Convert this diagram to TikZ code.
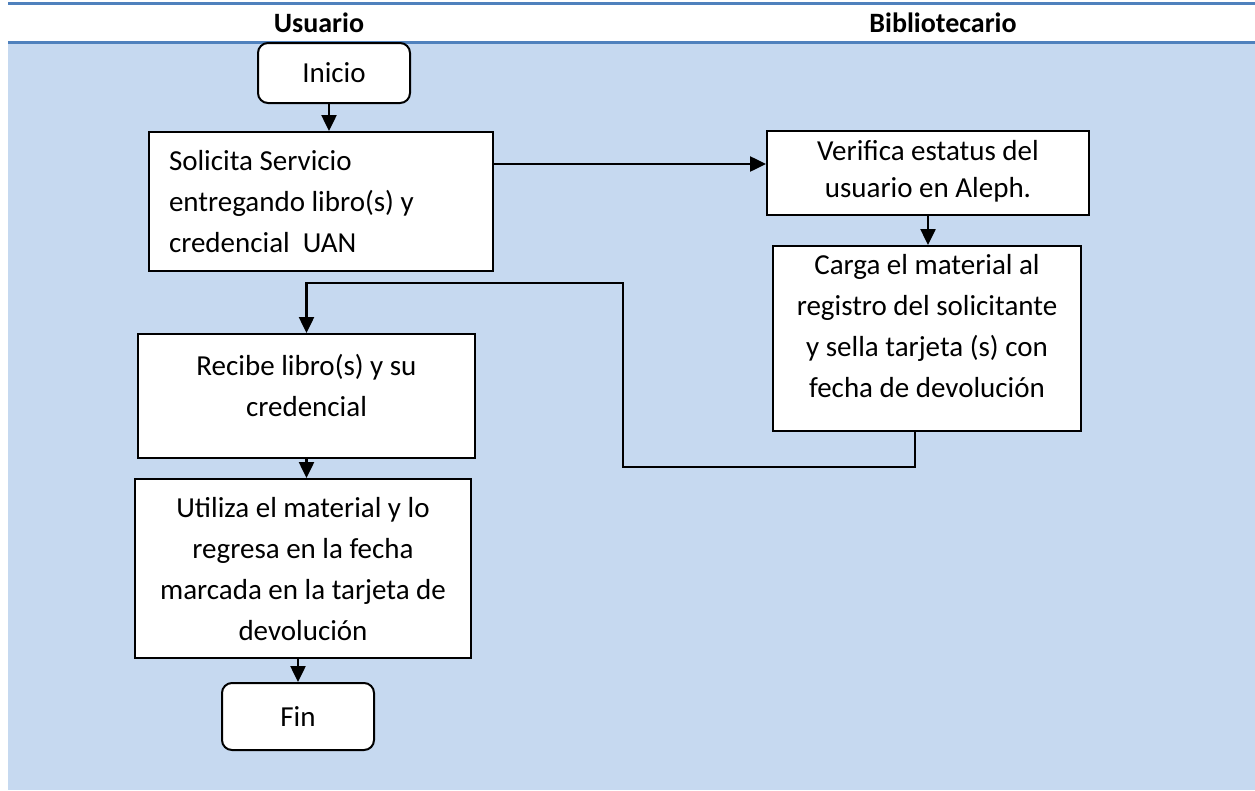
\documentclass[tikz,border=0pt]{standalone}
\usepackage{fontspec}
\setmainfont{Carlito}
\usetikzlibrary{arrows.meta}
\definecolor{lanefill}{HTML}{C6D9F0}
\definecolor{laneline}{HTML}{4F81BD}
% #1 width, #2 height, #3 top gap, #4 alignment, #5 text
\newcommand{\bxtext}[5]{\begin{minipage}[t][#2][t]{#1}#4\vspace*{#3}\strut #5\end{minipage}}
\begin{document}
\begin{tikzpicture}[x=1pt,y=-1pt,
  box/.style={draw=black,line width=2pt,fill=white,inner sep=0pt,
    font=\fontsize{29}{41}\selectfont,anchor=north west},
  term/.style={box,rounded corners=10pt,align=center},
  conn/.style={line width=2.5pt,line join=miter,-{Triangle[width=15pt,length=16pt]}},
  hdr/.style={font=\fontsize{28}{34}\selectfont\bfseries}]
\useasboundingbox (0,0) rectangle (1255,790);
\fill[lanefill] (8,43) rectangle (1255,790);
\draw[laneline,line width=3pt] (8,3.5) -- (1255,3.5);
\draw[laneline,line width=3pt] (8,42.5) -- (1255,42.5);
\node[hdr] (hu) at (319,23) {Usuario};
\node[hdr] (hb) at (943,23) {Bibliotecario};
% nodes
\node[term,minimum width=152pt,minimum height=60pt] (ini) at (257,42) {Inicio};
\node[box] (sol) at (148,131)
  {\bxtext{344pt}{139pt}{10pt}{\raggedright\leftskip=20pt}
   {Solicita Servicio\\entregando libro(s) y\\credencial\ \ UAN}};
\node[box] (ver) at (766,130)
  {\bxtext{322pt}{84pt}{4pt}{\centering\fontsize{29}{37}\selectfont}
   {Verifica estatus del\\usuario en Aleph.}};
\node[box] (car) at (772,245)
  {\bxtext{308pt}{185pt}{0pt}{\centering}
   {Carga el material al\\registro del solicitante\\y sella tarjeta (s) con\\fecha de devoluci\'on}};
\node[box] (rec) at (137,333)
  {\bxtext{337pt}{124pt}{13pt}{\centering}
   {Recibe libro(s) y su\\credencial}};
\node[box] (uti) at (134,478)
  {\bxtext{336pt}{179pt}{10pt}{\centering}
   {Utiliza el material y lo\\regresa en la fecha\\marcada en la tarjeta de\\devoluci\'on}};
\node[term,minimum width=152pt,minimum height=67pt] (fin) at (221,682) {Fin};
% connector bends
\coordinate (k1) at (623,467);
\coordinate (k2) at (623,283);
% connectors
\draw[conn] ([xshift=-5pt]ini.south) -- ([xshift=-5pt]ini.south |- sol.north);
\draw[conn] ([yshift=9pt]ver.west -| sol.east) -- ([yshift=9pt]ver.west);
\draw[conn] (ver.south) -- (ver.south |- car.north);
\draw[conn] ([xshift=-12pt]car.south) |- (k1) -- (k2) -| (rec.north);
\draw[conn] (rec.south) -- (rec.south |- uti.north);
\draw[conn] (fin.north |- uti.south) -- (fin.north);
\end{tikzpicture}
\end{document}
